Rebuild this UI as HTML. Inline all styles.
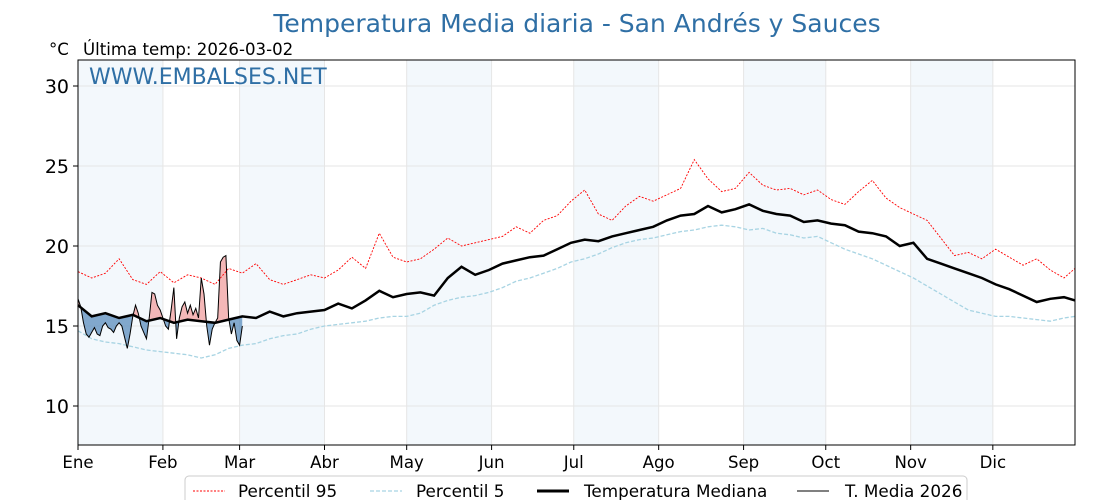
<!DOCTYPE html>
<html><head><meta charset="utf-8"><style>
body{margin:0;background:#fff;width:1120px;height:500px;overflow:hidden;font-family:"DejaVu Sans","Liberation Sans",sans-serif}
</style></head><body>
<svg id="chart" width="1120" height="500" xmlns="http://www.w3.org/2000/svg" font-family="DejaVu Sans, Liberation Sans, sans-serif">
<text x="577" y="32" text-anchor="middle" font-size="25" fill="#2f6fa5">Temperatura Media diaria - San Andrés y Sauces</text>
<text x="49" y="55" font-size="16.6" fill="#000">°C</text>
<text x="83" y="55" font-size="16.6" fill="#000">Última temp: 2026-03-02</text>
<g id="bands"></g><g id="grid"></g><g id="fills"></g><g id="lines"></g>
<text x="89" y="84" font-size="22" fill="#2f6fa5">WWW.EMBALSES.NET</text>
<rect x="78" y="60" width="997" height="385" fill="none" stroke="#000" stroke-width="1"/>
<g id="axes"></g>
<g>
<rect x="185" y="476" width="782" height="30" rx="4" fill="#fff" stroke="#ccc"/>
<line x1="193" y1="491" x2="225" y2="491" stroke="red" stroke-width="1" stroke-dasharray="2,1.5"/>
<text x="238" y="497" font-size="16.8">Percentil 95</text>
<line x1="370" y1="491" x2="402" y2="491" stroke="#a8d4e3" stroke-width="1.3" stroke-dasharray="4,2"/>
<text x="416" y="497" font-size="16.8">Percentil 5</text>
<line x1="537" y1="491" x2="569" y2="491" stroke="#000" stroke-width="3"/>
<text x="584" y="497" font-size="16.8">Temperatura Mediana</text>
<line x1="797" y1="491" x2="829" y2="491" stroke="#000" stroke-width="1"/>
<text x="845" y="497" font-size="16.8">T. Media 2026</text>
</g>
</svg>
<script>
const monthLabels=["Ene","Feb","Mar","Abr","May","Jun","Jul","Ago","Sep","Oct","Nov","Dic"];
const monthStarts=[0,31,59,90,120,151,181,212,243,273,304,334];
const yTicks=[10,15,20,25,30];
const stepDays=5;
const median=[16.3,15.6,15.8,15.5,15.7,15.3,15.5,15.2,15.4,15.3,15.2,15.4,15.6,15.5,15.9,15.6,15.8,15.9,16.0,16.4,16.1,16.6,17.2,16.8,17.0,17.1,16.9,18.0,18.7,18.2,18.5,18.9,19.1,19.3,19.4,19.8,20.2,20.4,20.3,20.6,20.8,21.0,21.2,21.6,21.9,22.0,22.5,22.1,22.3,22.6,22.2,22.0,21.9,21.5,21.6,21.4,21.3,20.9,20.8,20.6,20.0,20.2,19.2,18.9,18.6,18.3,18.0,17.6,17.3,16.9,16.5,16.7,16.8,16.6];
const p95=[18.4,18.0,18.3,19.2,17.9,17.6,18.4,17.7,18.2,18.0,17.6,18.6,18.3,18.9,17.9,17.6,17.9,18.2,18.0,18.5,19.3,18.6,20.8,19.3,19.0,19.2,19.8,20.5,20.0,20.2,20.4,20.6,21.2,20.8,21.6,21.9,22.8,23.5,22.0,21.6,22.5,23.1,22.8,23.2,23.6,25.4,24.2,23.4,23.6,24.6,23.8,23.5,23.6,23.2,23.5,22.9,22.6,23.4,24.1,23.0,22.4,22.0,21.6,20.5,19.4,19.6,19.2,19.8,19.3,18.8,19.2,18.5,18.0,18.6];
const p5=[14.7,14.2,14.0,13.9,13.7,13.5,13.4,13.3,13.2,13.0,13.2,13.6,13.8,13.9,14.2,14.4,14.5,14.8,15.0,15.1,15.2,15.3,15.5,15.6,15.6,15.8,16.3,16.6,16.8,16.9,17.1,17.4,17.8,18.0,18.3,18.6,19.0,19.2,19.5,19.9,20.2,20.4,20.5,20.7,20.9,21.0,21.2,21.3,21.2,21.0,21.1,20.8,20.7,20.5,20.6,20.2,19.8,19.5,19.2,18.8,18.4,18.0,17.5,17.0,16.5,16.0,15.8,15.6,15.6,15.5,15.4,15.3,15.5,15.6];
const t2026=[16.7,16.2,15.2,14.5,14.3,14.6,14.9,14.5,14.4,15.0,15.2,14.9,14.8,14.6,15.0,15.2,15.0,14.3,13.6,14.5,15.6,16.3,15.8,15.0,14.6,14.2,15.5,17.1,17.0,16.3,16.0,15.5,15.0,14.8,16.0,17.4,14.2,15.5,16.2,16.5,15.8,16.3,15.7,16.1,15.5,18.0,17.0,15.0,13.8,14.8,15.2,15.5,19.0,19.3,19.4,15.5,14.5,15.2,14.1,13.8,15.0];

(function(){
const NS="http://www.w3.org/2000/svg";
const X0=78,X1=1075,Y0=60,Y1=445;
const xs=d=>X0+(X1-X0)*d/364;
const ys=t=>86+(30-t)*16;
function mk(tag,parent,attrs){const e=document.createElementNS(NS,tag);for(const k in attrs)e.setAttribute(k,attrs[k]);document.getElementById(parent).appendChild(e);return e;}
monthStarts.forEach((m,i)=>{if(i%2===0){const end=i+1<12?monthStarts[i+1]:364;
const r=mk('rect','bands',{x:xs(m),y:Y0,width:xs(end)-xs(m),height:Y1-Y0,fill:'#f3f8fc'});

}});
monthStarts.forEach((m,i)=>{
const g=mk('line','grid',{x1:xs(m),x2:xs(m),y1:Y0,y2:Y1,stroke:'#e6e6e6','stroke-width':1});


mk('line','axes',{x1:xs(m),x2:xs(m),y1:Y1,y2:Y1+5,stroke:'#000'});
const t=mk('text','axes',{x:xs(m),y:Y1+23,'font-size':16.6,'text-anchor':'middle'});t.textContent=monthLabels[i];

});
yTicks.forEach(v=>{
const g=mk('line','grid',{x1:X0,x2:X1,y1:ys(v),y2:ys(v),stroke:'#e6e6e6','stroke-width':1});


mk('line','axes',{x1:X0-5,x2:X0,y1:ys(v),y2:ys(v),stroke:'#000'});
const t=mk('text','axes',{x:X0-9,y:ys(v)+7,'font-size':19,'text-anchor':'end'});t.textContent=v;

});
function interp(arr,d){const i=Math.min(Math.floor(d/stepDays),arr.length-2);const f=(d-i*stepDays)/stepDays;return arr[i]+(arr[i+1]-arr[i])*f;}
function stepPath(arr){return arr.map((v,i)=>(i?'L':'M')+xs(Math.min(i*stepDays,364)).toFixed(1)+','+ys(v).toFixed(1)).join('');}
const n=t2026.length;
let curPath='M'+xs(0)+','+ys(t2026[0]);for(let d=1;d<n;d++)curPath+='L'+xs(d)+','+ys(t2026[d]);
let back='';for(let d=n-1;d>=0;d--)back+='L'+xs(d)+','+ys(interp(median,d));
const area=curPath+back+'Z';
let medLine='';for(let d=0;d<n;d++)medLine+=(d?'L':'M')+xs(d)+','+ys(interp(median,d));
const defs=mk('defs','fills',{});
const ca=document.createElementNS(NS,'clipPath');ca.id='above';defs.appendChild(ca);
const pa=document.createElementNS(NS,'path');pa.setAttribute('d',medLine+'L'+xs(n-1)+','+Y0+'L'+xs(0)+','+Y0+'Z');ca.appendChild(pa);
const cb=document.createElementNS(NS,'clipPath');cb.id='below';defs.appendChild(cb);
const pb=document.createElementNS(NS,'path');pb.setAttribute('d',medLine+'L'+xs(n-1)+','+Y1+'L'+xs(0)+','+Y1+'Z');cb.appendChild(pb);
const fa=mk('path','fills',{d:area,fill:'#f2aaaa','fill-opacity':0.85,'clip-path':'url(#above)'});


const fb=mk('path','fills',{d:area,fill:'#5b8ebd','fill-opacity':0.75,'clip-path':'url(#below)'});


const l1=mk('path','lines',{d:stepPath(p95),fill:'none',stroke:'red','stroke-width':0.9,'stroke-dasharray':'2,1.5'});


const l2=mk('path','lines',{d:stepPath(p5),fill:'none',stroke:'#a8d4e3','stroke-width':1.3,'stroke-dasharray':'4,2'});


const l3=mk('path','lines',{d:stepPath(median),fill:'none',stroke:'#000','stroke-width':2.5});


const l4=mk('path','lines',{d:curPath,fill:'none',stroke:'#000','stroke-width':1});


})();
</script>
</body></html>
